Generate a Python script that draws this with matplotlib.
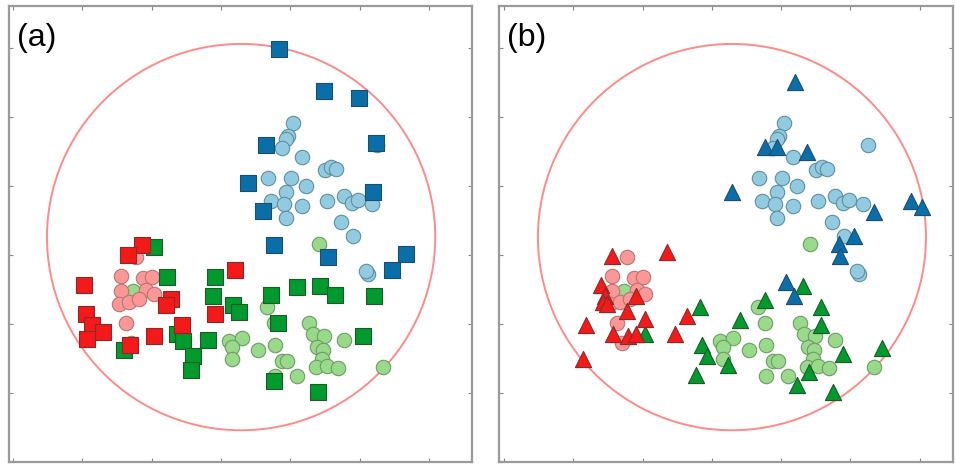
import matplotlib
matplotlib.use("Agg")
import matplotlib.pyplot as plt
from matplotlib.patches import Circle

# shared reference points (circles), drawn in both panels
blue_pts_x = [4.04, 3.97, 3.94, 3.88, 4.17, 4.50, 4.59, 4.66, 3.68, 4.01, 4.23, 3.94, 3.72,
              3.91, 4.17, 3.94, 4.53, 4.78, 4.89, 4.98, 5.18, 4.73, 4.91, 5.12, 5.09, 5.25]
blue_pts_y = [4.91, 4.72, 4.68, 4.55, 4.42, 4.23, 4.27, 4.24, 4.11, 4.11, 4.00, 3.91, 3.78,
              3.74, 3.71, 3.54, 3.78, 3.85, 3.75, 3.80, 3.74, 3.48, 3.28, 2.73, 2.77, 4.60]

green_pts_x = [1.73, 4.42, 3.67, 3.77, 4.27, 4.33, 4.49, 4.78, 3.12, 3.30, 3.16, 3.16, 3.54,
               3.78, 3.88, 3.95, 4.39, 4.47, 4.46, 4.37, 4.53, 4.69, 4.10, 3.78, 5.34]
green_pts_y = [2.48, 3.16, 2.25, 2.01, 2.02, 1.86, 1.83, 1.77, 1.76, 1.80, 1.67, 1.49, 1.62,
               1.69, 1.47, 1.46, 1.67, 1.62, 1.50, 1.37, 1.39, 1.36, 1.24, 1.24, 1.37]

red_pts_x = [1.77, 1.56, 1.88, 2.01, 1.56, 1.92, 2.03, 1.53, 1.67, 1.82, 1.63, 1.70]
red_pts_y = [2.97, 2.70, 2.66, 2.68, 2.48, 2.50, 2.44, 2.29, 2.32, 2.37, 2.01, 1.72]

# panel (a): squares
blue_sq_x = [3.84, 4.49, 4.99, 5.24, 3.65, 3.39, 5.19, 3.61, 3.77, 4.55, 5.67, 5.47]
blue_sq_y = [5.99, 5.38, 5.28, 4.62, 4.59, 4.04, 3.91, 3.64, 3.15, 2.97, 3.02, 2.79]

green_sq_x = [2.03, 2.22, 2.91, 2.89, 3.17, 3.26, 2.37, 2.45, 2.81, 2.60, 2.57, 1.60, 3.72,
              4.10, 4.43, 4.65, 5.21, 3.82, 5.05, 3.77, 4.40]
green_sq_y = [3.12, 2.68, 2.68, 2.41, 2.27, 2.18, 1.85, 1.76, 1.77, 1.54, 1.34, 1.62, 2.42,
              2.54, 2.55, 2.42, 2.41, 2.01, 1.83, 1.17, 1.01]

red_sq_x = [1.86, 1.66, 1.02, 2.28, 2.21, 1.05, 1.14, 1.30, 1.07, 2.03, 2.44, 1.69, 2.91, 3.20]
red_sq_y = [3.15, 3.00, 2.57, 2.37, 2.27, 2.15, 1.98, 1.89, 1.79, 1.83, 1.98, 1.69, 2.15, 2.79]

# panel (b): triangles
blue_tri_x = [4.20, 3.77, 3.94, 4.37, 3.29, 5.87, 6.03, 5.34, 5.05, 4.83, 4.85, 4.07, 4.18]
blue_tri_y = [5.51, 4.57, 4.57, 4.49, 3.92, 3.78, 3.69, 3.62, 3.28, 3.16, 2.99, 2.61, 2.41]

green_tri_x = [4.31, 3.77, 2.83, 3.41, 4.57, 4.57, 2.86, 2.93, 3.23, 2.77, 4.89, 5.45, 4.40,
               4.23, 4.75, 2.03]
green_tri_y = [2.55, 2.35, 2.24, 2.06, 2.24, 1.99, 1.70, 1.54, 1.40, 1.26, 1.56, 1.65, 1.31,
               1.11, 1.02, 1.85]

red_tri_x = [1.56, 2.35, 1.40, 1.46, 1.43, 1.49, 1.90, 1.77, 2.03, 1.18, 2.64, 1.57, 1.79,
             1.90, 2.47, 1.14]
red_tri_y = [2.99, 3.04, 2.57, 2.41, 2.32, 2.29, 2.41, 2.19, 2.08, 1.99, 2.11, 1.85, 1.83,
             1.85, 1.85, 1.50]

ring_center = (3.29, 3.26)
ring_radius = 2.80

C = {
    "blue_dark": "#0a6fa8", "blue_light": "#92cbe0",
    "green_dark": "#009a2e", "green_light": "#98d98a",
    "red_dark": "#f41a1a", "red_light": "#fb9797",
}
EDGE = {
    "blue_dark": "#1d4d6e", "blue_light": "#5d8fa3",
    "green_dark": "#1f5a26", "green_light": "#6e9c66",
    "red_dark": "#8a2a2a", "red_light": "#b87474",
}

W, H = 956, 472
fig = plt.figure(figsize=(W / 100, H / 100), dpi=100)
fig.patch.set_facecolor("white")

ax_a = fig.add_axes([9 / W, 10 / H, 463 / W, 456 / H])
ax_b = fig.add_axes([499 / W, 10 / H, 454 / W, 456 / H])


def style(ax, xlim, label):
    ax.set_xlim(*xlim)
    ax.set_ylim(0.029, 6.61)
    ax.set_xticks(range(7))
    ax.set_yticks(range(7))
    ax.tick_params(direction="in", length=3, width=0.8, color="#888888",
                   top=True, right=True, labelbottom=False, labelleft=False)
    for s in ax.spines.values():
        s.set_color("#9a9a9a")
        s.set_linewidth(1.6)
    ax.add_patch(Circle(ring_center, ring_radius, fill=False, edgecolor="#ff8a8a",
                        linewidth=1.4, zorder=1))
    ax.text(0.017, 0.93, label, transform=ax.transAxes, ha="left", va="center",
            fontsize=23, family="Liberation Sans", color="black")


def dots(ax):
    kw = dict(s=108, marker="o", linewidths=0.8, zorder=2)
    ax.scatter(blue_pts_x, blue_pts_y, c=C["blue_light"], edgecolors=EDGE["blue_light"], **kw)
    ax.scatter(green_pts_x, green_pts_y, c=C["green_light"], edgecolors=EDGE["green_light"], **kw)
    ax.scatter(red_pts_x, red_pts_y, c=C["red_light"], edgecolors=EDGE["red_light"], **kw)


style(ax_a, (-0.058, 6.62), "(a)")
dots(ax_a)
sq = dict(s=118, marker="s", linewidths=0.8, zorder=3)
ax_a.scatter(green_sq_x, green_sq_y, c=C["green_dark"], edgecolors=EDGE["green_dark"], **sq)
ax_a.scatter(blue_sq_x, blue_sq_y, c=C["blue_dark"], edgecolors=EDGE["blue_dark"], **sq)
ax_a.scatter(red_sq_x, red_sq_y, c=C["red_dark"], edgecolors=EDGE["red_dark"], **sq)

style(ax_b, (-0.072, 6.48), "(b)")
dots(ax_b)
tri = dict(s=135, marker="^", linewidths=0.8, zorder=3)
ax_b.scatter(green_tri_x, green_tri_y, c=C["green_dark"], edgecolors=EDGE["green_dark"], **tri)
ax_b.scatter(blue_tri_x, blue_tri_y, c=C["blue_dark"], edgecolors=EDGE["blue_dark"], **tri)
ax_b.scatter(red_tri_x, red_tri_y, c=C["red_dark"], edgecolors=EDGE["red_dark"], **tri)

fig.savefig("out.png", dpi=100, facecolor="white")
